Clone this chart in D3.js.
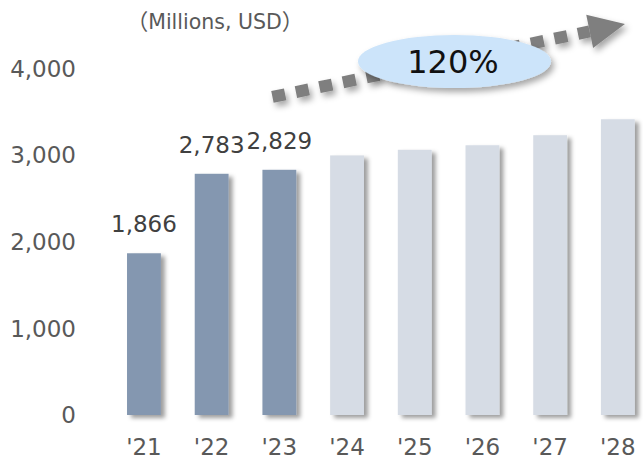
<!DOCTYPE html>
<html><head><meta charset="utf-8">
<script src="https://cdn.jsdelivr.net/npm/d3@7"></script>
<style>
html,body{margin:0;padding:0;background:#fff;}
svg{display:block;}
</style></head>
<body>
<svg id="c" width="643" height="460"></svg>
<script>
const years = ["'21","'22","'23","'24","'25","'26","'27","'28"];
const values = [1866, 2783, 2829, 2995, 3060, 3112, 3228, 3412];
const actual = [true, true, true, false, false, false, false, false];
const labels = ["1,866","2,783","2,829",null,null,null,null,null];
const yTicks = [0, 1000, 2000, 3000, 4000];
const unitText = "Millions, USD";
const growthText = "120%";

const svg = d3.select("#c");
const font = "'DejaVu Sans', Verdana, sans-serif";

const defs = svg.append("defs");
const sh = defs.append("filter").attr("id","sh").attr("x","-30%").attr("y","-30%").attr("width","160%").attr("height","160%");
sh.append("feDropShadow").attr("dx",4).attr("dy",3).attr("stdDeviation",2.2).attr("flood-color","#000").attr("flood-opacity",0.38);
const sh2 = defs.append("filter").attr("id","sh2").attr("x","-30%").attr("y","-30%").attr("width","160%").attr("height","180%");
sh2.append("feDropShadow").attr("dx",3).attr("dy",4).attr("stdDeviation",3).attr("flood-color","#000").attr("flood-opacity",0.35);

const x = d3.scaleBand().domain(years).range([110.1, 651.7]).paddingInner(0.5).paddingOuter(0.25);
const y = d3.scaleLinear().domain([0, 4000]).range([415, 68.3]);

// y tick labels
svg.append("g").selectAll("text").data(yTicks).join("text")
  .attr("x", 76).attr("y", d => y(d)).attr("dy", "0.36em")
  .attr("text-anchor", "end").attr("font-family", font).attr("font-size", 23)
  .attr("fill", "#595959").text(d => d3.format(",")(d));

// baseline
svg.append("line").attr("x1", 89).attr("x2", 643).attr("y1", y(0)).attr("y2", y(0))
  .attr("stroke", "#d9d9d9").attr("stroke-width", 2).attr("filter","url(#sh)");

// bars
svg.append("g").selectAll("rect").data(years).join("rect")
  .attr("x", d => x(d)).attr("width", x.bandwidth())
  .attr("y", (d,i) => y(values[i])).attr("height", (d,i) => y(0) - y(values[i]))
  .attr("fill", (d,i) => actual[i] ? "#8497b0" : "#d6dce5")
  .attr("filter","url(#sh)");

// data labels
svg.append("g").selectAll("text").data(years.filter((d,i)=>labels[i])).join("text")
  .attr("x", d => x(d) + x.bandwidth()/2)
  .attr("y", d => y(values[years.indexOf(d)]) - 21)
  .attr("text-anchor", "middle").attr("font-family", font).attr("font-size", 23)
  .attr("fill", "#404040").text(d => labels[years.indexOf(d)]);

// x labels
svg.append("g").selectAll("text").data(years).join("text")
  .attr("x", d => x(d) + x.bandwidth()/2).attr("y", 455)
  .attr("text-anchor", "middle").attr("font-family", font).attr("font-size", 23)
  .attr("fill", "#595959").text(d => d);

// unit
const ut = svg.append("text").attr("x", 215).attr("y", 29).attr("text-anchor","middle")
  .attr("font-family", font).attr("font-size", 20.5).attr("fill", "#595959");
ut.append("tspan").attr("font-family","'Noto Sans CJK JP', sans-serif").attr("font-size", 22).text("（");
ut.append("tspan").text(unitText);
ut.append("tspan").attr("font-family","'Noto Sans CJK JP', sans-serif").attr("font-size", 22).text("）");

// growth arrow
const sx = x("'23") + 10, sy = y(3670);
const tx = x("'28") + 24, ty = y(4510);
const L = Math.hypot(tx - sx, ty - sy);
const ux = (tx - sx)/L, uy = (ty - sy)/L;
const bx = tx - 36*ux, by = ty - 36*uy;
const nx = -uy, ny = ux;
const ag = svg.append("g").attr("filter","url(#sh2)");
ag.append("line").attr("x1", sx).attr("y1", sy).attr("x2", bx).attr("y2", by)
  .attr("stroke", "#7f7f7f").attr("stroke-width", 12).attr("stroke-dasharray", "13,11");
ag.append("path").attr("d", `M${tx},${ty}L${bx+17*nx},${by+17*ny}L${bx-17*nx},${by-17*ny}Z`)
  .attr("fill", "#7f7f7f");

// ellipse
svg.append("ellipse").attr("cx", 454.5).attr("cy", 61.5).attr("rx", 96.5).attr("ry", 26.5)
  .attr("fill", "#cce4fa").attr("filter","url(#sh2)");
svg.append("text").attr("x", 453).attr("y", 73).attr("text-anchor","middle")
  .attr("font-family", font).attr("font-size", 32).attr("fill", "#111").text(growthText);
</script>
</body></html>
